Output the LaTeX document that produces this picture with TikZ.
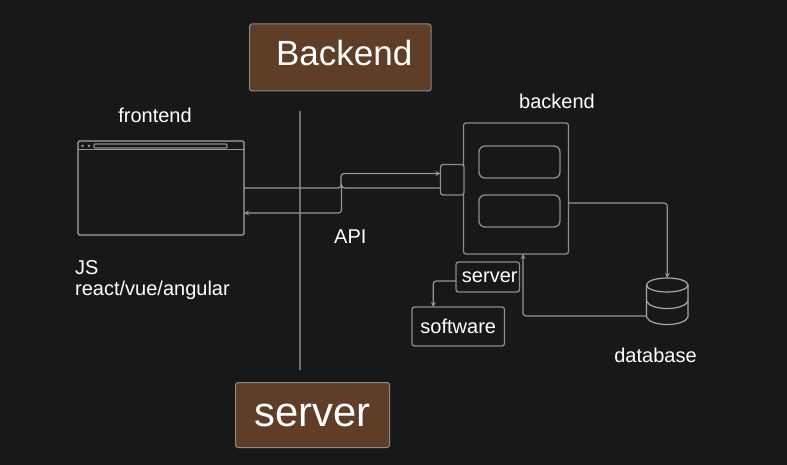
\documentclass[tikz,border=0pt]{standalone}
\usepackage{fontspec}
\setmainfont{Liberation Sans}
\usetikzlibrary{positioning}
\usetikzlibrary{calc}
\definecolor{canvas}{HTML}{181818}
\definecolor{rim}{HTML}{8C8C8C}
\definecolor{rimlight}{HTML}{A8A8A8}
\definecolor{rimdark}{HTML}{707070}
\definecolor{wire}{HTML}{969696}
\definecolor{brown}{HTML}{5F3D27}

\begin{document}
\begin{tikzpicture}[x=1pt,y=-1pt,
		box/.style = {draw=rim, line width=1.3pt, rounded corners=2.5pt, inner sep=0pt, outer sep=0pt},
		banner/.style = {box, line width=1pt, fill=brown, text=white},
		label/.style = {text=white, inner sep=0pt, font=\fontsize{20}{24}\selectfont},
		link/.style = {draw=wire, line width=1.2pt, rounded corners=3pt},
		drum/.style = {draw=rimlight, line width=1.2pt}
	]
		\fill[canvas] (0,0) rectangle (787,465);
		\node (title) [banner, minimum width=181.5pt, minimum height=67pt, font=\fontsize{35}{40}\selectfont] at (340.25,57.5) {\hspace*{8pt}\raisebox{8.5pt}{Backend}};
		\node (host) [banner, minimum width=154pt, minimum height=65pt, font=\fontsize{41.8}{46}\selectfont] at (312.5,415) {\raisebox{-8pt}{server}};
		\coordinate (top) at (300,111);
		\coordinate (bottom) at (300,370);
		\draw [link, draw=rimdark, line width=1.5pt] (top) -- (bottom);
		% browser window
		\node (browser) [box, rounded corners=1.5pt, draw=rimlight, minimum width=166pt, minimum height=94pt] at (161,188) {};
		\node (address) [box, rounded corners=1pt, minimum width=133pt, minimum height=4pt] at (160.5,146) {};
		\draw [link] ($(browser.north west)+(0,-8.5pt)$) -- ($(browser.north east)+(0,-8.5pt)$);
		\node (dot1) [circle, fill=rim, minimum size=3pt, inner sep=0pt] at (82.5,146) {};
		\node (dot2) [circle, fill=rim, minimum size=3pt, inner sep=0pt] at (89,146) {};
		% backend
		\node (service) [box, minimum width=105pt, minimum height=131pt] at (516,188.5) {};
		\node (slot1) [box, rounded corners=6pt, minimum width=81pt, minimum height=32pt] at (519.5,162) {};
		\node (slot2) [box, rounded corners=6pt, minimum width=81pt, minimum height=32pt] at (519.5,211) {};
		\node (api) [box, fill=canvas, minimum width=23.5pt, minimum height=30.5pt] at (452.25,179.75) {};
		\node (srv) [box, minimum width=63.5pt, minimum height=30pt, label, draw=rim] at (487.75,277) {\hspace*{4pt}server};
		\node (soft) [box, minimum width=92.5pt, minimum height=39pt, label, draw=rim] at (458.25,326.5) {software};
		% database
		\node (db) [minimum width=41.5pt, minimum height=46pt, inner sep=0pt, outer sep=0pt] at (667.25,301) {};
		\draw [drum] (db.center) ++(0,-16) ellipse [x radius=20.75, y radius=7];
		\draw [drum] (646.5,285) -- (646.5,317) .. controls (650,327) and (684.5,327) .. (688,317) -- (688,285);
		\draw [drum] (646.5,301) .. controls (650,311) and (684.5,311) .. (688,301);
		% labels
		\node (lfront) [label] at (155,115) {frontend};
		\node (lback) [label] at (557,101) {backend};
		\node (ljs) [label, anchor=west] at (75,268) {JS};
		\node (lstack) [label, anchor=west] at (75,290) {react/vue/angular};
		\node (lapi) [label, anchor=west] at (334,237) {API};
		\node (ldb) [label] at (655.5,355) {database};
		% connectors
		\path [link, -stealth]
		(browser.east) -| ++(97pt,0) |- ([yshift=6.25pt]api.west);
		\path [link, -stealth]
		([yshift=-8.25pt]api.west) -| ++(-99pt,0) |- ([yshift=-25pt]browser.east);
		\path [link, -stealth]
		([yshift=-14.5pt]service.east) -| (db.north);
		\path [link, -stealth]
		([yshift=-15pt]db.west) -| (523,254);
		\path [link, -stealth]
		([yshift=-4pt]srv.west) -| ([xshift=-25pt]soft.north);
	\end{tikzpicture}
\end{document}
